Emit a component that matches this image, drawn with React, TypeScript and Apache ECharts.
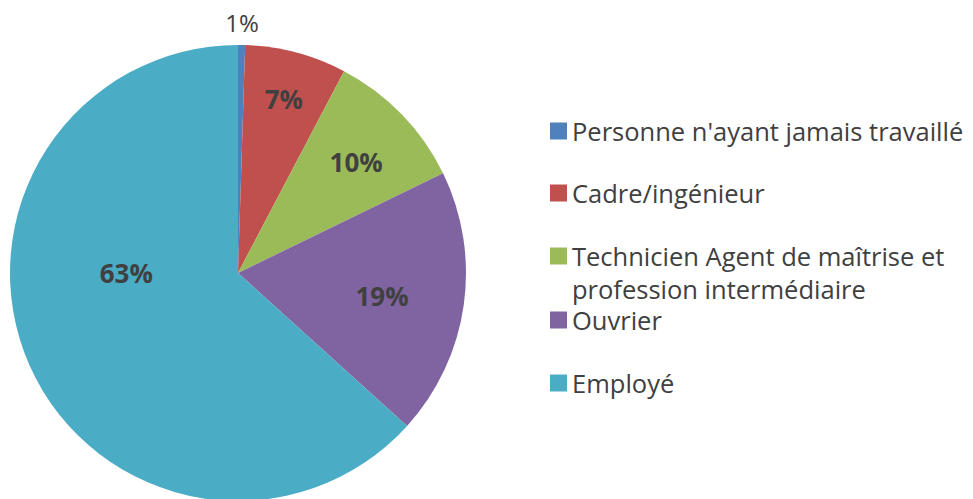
import React, { useEffect, useRef } from "react";
import * as echarts from "echarts";

const categories = [
  "Personne n'ayant jamais travaillé",
  "Cadre/ingénieur",
  "Technicien Agent de maîtrise et\nprofession intermédiaire",
  "Ouvrier",
  "Employé",
];
const values = [0.5, 7.2, 10.1, 18.9, 63.3];
const colors = ["#4F81BD", "#C0504D", "#9BBB59", "#8064A2", "#4BACC6"];

// label placement style per slice: fraction of radius and angular shift (deg)
const labelRadiusRatio = [1.1, 0.79, 0.71, 0.64, 0.49];
const labelAngleShift = [0, 0, 1, 1, 24];

const CX = 238;
const CY = 273;
const R = 228;
const FONT = "'Open Sans', sans-serif";
const TEXT = "#404040";

export default function App() {
  const ref = useRef<HTMLDivElement>(null);
  useEffect(() => {
    if (!ref.current) return;
    const chart = echarts.init(ref.current, undefined, { renderer: "svg" });
    const total = values.reduce((a, b) => a + b, 0);
    const mids: number[] = [];
    let acc = 0;
    values.forEach((v) => {
      mids.push(((acc + v / 2) / total) * Math.PI * 2);
      acc += v;
    });
    const legendText = {
      color: TEXT,
      fontFamily: FONT,
      fontSize: 25.5,
      lineHeight: 33,
    };
    const common = {
      orient: "vertical",
      left: 550,
      padding: 0,
      itemWidth: 17,
      itemHeight: 17,
      icon: "rect",
      selectedMode: false,
      textStyle: legendText,
    };
    chart.setOption({
      animation: false,
      backgroundColor: "#ffffff",
      legend: [
        { ...common, top: 114.5, itemGap: 29, data: [categories[0], categories[1]] },
        {
          ...common,
          top: 206.5,
          data: [categories[2]],
          formatter: (name: string) => "\n" + name,
        },
        { ...common, top: 303.5, itemGap: 30, data: [categories[3], categories[4]] },
      ],
      series: [
        {
          type: "pie",
          center: [CX, CY],
          radius: R,
          startAngle: 90,
          clockwise: true,
          avoidLabelOverlap: false,
          silent: true,
          data: categories.map((name, i) => ({
            name,
            value: values[i],
            itemStyle: { color: colors[i] },
            label:
              i === 0
                ? { fontWeight: "normal", fontSize: 24 }
                : { fontWeight: "bold", fontSize: 26 },
          })),
          label: {
            show: true,
            position: "inside",
            color: TEXT,
            fontFamily: FONT,
            formatter: (p: any) => Math.round(p.percent) + "%",
          },
          labelLine: { show: false },
          labelLayout: (params: any) => {
            const i = params.dataIndex;
            const a = mids[i] + (labelAngleShift[i] * Math.PI) / 180;
            const r = R * labelRadiusRatio[i];
            return {
              x: CX + r * Math.sin(a),
              y: CY - r * Math.cos(a),
              align: "center",
              verticalAlign: "middle",
            };
          },
        },
      ],
    });
    return () => chart.dispose();
  }, []);
  return (
    <div
      ref={ref}
      style={{ position: "fixed", left: 0, top: 0, width: 973, height: 499 }}
    />
  );
}
